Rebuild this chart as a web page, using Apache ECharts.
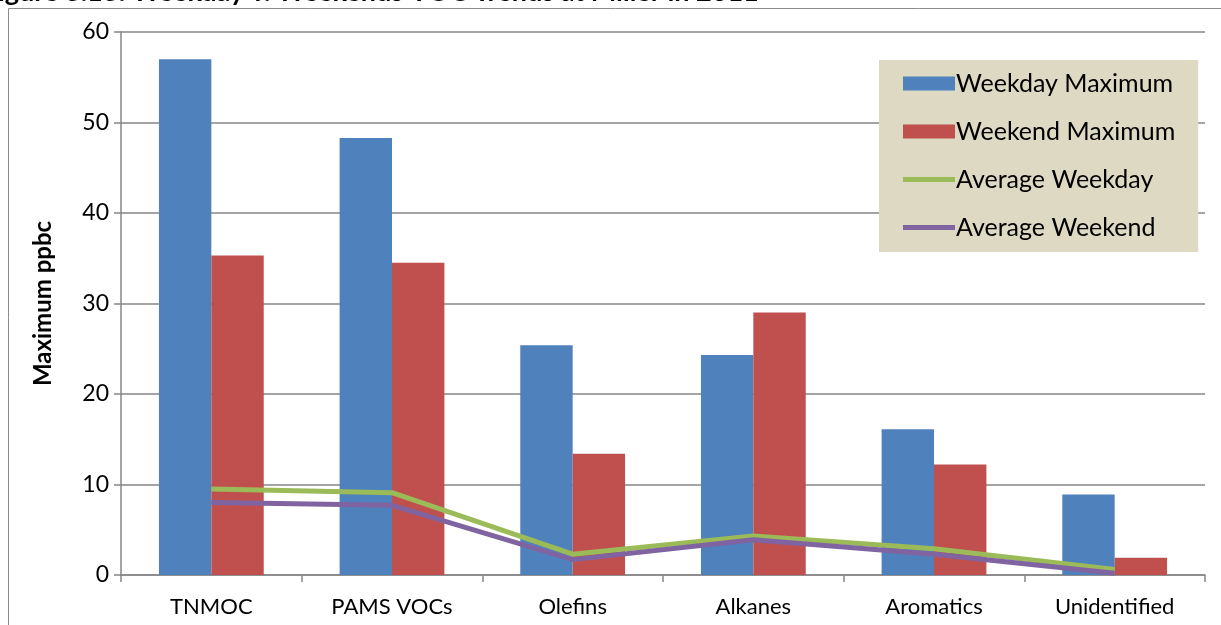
<!DOCTYPE html>
<html>
<head>
<meta charset="utf-8">
<script src="https://cdn.jsdelivr.net/npm/echarts@6/dist/echarts.min.js"></script>
<style>
html,body{margin:0;padding:0;background:#fff;}
#c{width:1221px;height:625px;}
</style>
</head>
<body>
<div id="c"></div>
<script>
const titleText = "igure 3.13: Weekday v. Weekends VOC Trends at Miller in 2011";
const categories = ["TNMOC", "PAMS VOCs", "Olefins", "Alkanes", "Aromatics", "Unidentified"];
const weekdayMax = [57.0, 48.3, 25.4, 24.3, 16.1, 8.9];
const weekendMax = [35.3, 34.5, 13.4, 29.0, 12.2, 1.9];
const avgWeekday = [9.5, 9.1, 2.3, 4.3, 2.9, 0.6];
const avgWeekend = [8.0, 7.7, 1.7, 3.9, 2.3, 0.2];
const yTicks = [0, 10, 20, 30, 40, 50, 60];

const FONT = "Lato, 'Open Sans', sans-serif";
const LINE_ICON = 'path://M0,0H52V5H0Z';
const chart = echarts.init(document.getElementById('c'), null, {renderer: 'canvas'});
chart.setOption({
  animation: false,
  backgroundColor: '#ffffff',
  graphic: [
    {type: 'text', left: -2, top: -21, style: {text: titleText, font: "bold 27px " + FONT, fill: '#000'}},
    {type: 'rect', shape: {x: 8.5, y: 8.5, width: 1400, height: 800}, style: {fill: 'none', stroke: '#8c8c8c', lineWidth: 1}, z: -1}
  ],
  grid: {left: 121, right: 16, top: 32, bottom: 50, containLabel: false},
  legend: {
    orient: 'vertical',
    left: 879, top: 60,
    width: 318,
    backgroundColor: '#ddd9c3',
    padding: [11, 23, 12, 24],
    itemGap: 23,
    itemWidth: 52,
    itemHeight: 14,
    textStyle: {fontFamily: FONT, fontSize: 25, color: '#000', padding: [0, 0, 0, -4]},
    data: [
      {name: 'Weekday Maximum', icon: 'rect'},
      {name: 'Weekend Maximum', icon: 'rect'},
      {name: 'Average Weekday', icon: LINE_ICON},
      {name: 'Average Weekend', icon: LINE_ICON}
    ]
  },
  xAxis: {
    type: 'category',
    data: categories,
    axisLine: {lineStyle: {color: '#868686', width: 1.5}},
    axisTick: {show: true, length: 7, lineStyle: {color: '#868686', width: 1.5}},
    axisLabel: {fontFamily: FONT, fontSize: 22, color: '#000', margin: 21}
  },
  yAxis: {
    type: 'value',
    min: yTicks[0], max: yTicks[yTicks.length - 1], interval: 10,
    name: 'Maximum ppbc',
    nameLocation: 'middle',
    nameGap: 66,
    nameTextStyle: {fontFamily: FONT, fontSize: 24, fontWeight: 'bold', color: '#000'},
    axisLine: {show: true, lineStyle: {color: '#868686', width: 1.5}},
    axisTick: {show: true, length: 7, lineStyle: {color: '#868686', width: 1.5}},
    axisLabel: {fontFamily: FONT, fontSize: 23, color: '#000', margin: 12},
    splitLine: {show: true, lineStyle: {color: '#868686', width: 1.5}}
  },
  series: [
    {name: 'Weekday Maximum', type: 'bar', data: weekdayMax, barGap: '0%', barCategoryGap: '42%',
     itemStyle: {color: '#4f81bd'}},
    {name: 'Weekend Maximum', type: 'bar', data: weekendMax, barGap: '0%', barCategoryGap: '42%',
     itemStyle: {color: '#c0504d'}},
    {name: 'Average Weekday', type: 'line', data: avgWeekday, symbol: 'none', symbolKeepAspect: true,
     lineStyle: {color: '#9bbb59', width: 5}, itemStyle: {color: '#9bbb59'}},
    {name: 'Average Weekend', type: 'line', data: avgWeekend, symbol: 'none', symbolKeepAspect: true,
     lineStyle: {color: '#8064a2', width: 5}, itemStyle: {color: '#8064a2'}}
  ]
});
</script>
</body>
</html>
